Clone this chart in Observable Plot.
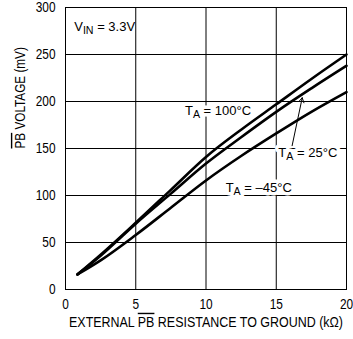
<!DOCTYPE html>
<html>
<head>
<meta charset="utf-8">
<script src="https://cdn.jsdelivr.net/npm/d3@7"></script>
<script src="https://cdn.jsdelivr.net/npm/@observablehq/plot@0.6"></script>
<style>
  body { margin: 0; background: #fff; }
</style>
</head>
<body>
<div id="chart"></div>
<script>
// External PB resistance to ground (kΩ)
const resistance = [0.85, 2.5, 5, 7.5, 10, 12.5, 15, 17.5, 20];
// PB voltage (mV) at three ambient temperatures
const volt100C = [16, 37, 71, 106, 141, 170, 197, 224, 250];
const volt25C  = [16, 36, 70, 102, 134, 162, 189, 214, 238];
const voltM45C = [16, 31, 58, 87, 116, 142, 166, 189, 210];

const xTicks = [0, 5, 10, 15, 20];
const yTicks = [0, 50, 100, 150, 200, 250, 300];
const xGrid = [5, 10, 15];
const yGrid = [50, 100, 150, 200, 250];

// {..} marks a subscript, [..] marks an overline
const xTitle = "EXTERNAL [PB] RESISTANCE TO GROUND (kΩ)";
const yTitle = "[PB] VOLTAGE (mV)";

const curves = [
  {name: "100", values: volt100C},
  {name: "25", values: volt25C},
  {name: "-45", values: voltM45C}
];
const rows = curves.flatMap(c => c.values.map((v, i) => ({series: c.name, r: resistance[i], mv: v})));

// annotation anchors, in data units
const notes = [
  {text: "V{IN} = 3.3V", r: 0.62, mv: 279, halo: false},
  {text: "T{A} = 100°C", r: 8.5, mv: 190, halo: true},
  {text: "T{A} = 25°C", r: 15.15, mv: 145, halo: true},
  {text: "T{A} = –45°C", r: 11.4, mv: 108.5, halo: true}
];
const pointer = [{r1: 16.13, mv1: 153, r2: 16.85, mv2: 204}];

const font = "'Liberation Sans', Arial, sans-serif";

const chart = Plot.plot({
  width: 353,
  height: 339,
  marginLeft: 65,
  marginRight: 7,
  marginTop: 7,
  marginBottom: 50,
  style: {fontFamily: font, fontSize: "14.5px", color: "#000", background: "#fff"},
  x: {domain: [0, 20], ticks: xTicks, tickSize: 0, tickPadding: 9, label: null},
  y: {domain: [0, 300], ticks: yTicks, tickSize: 0, tickPadding: 10, label: null},
  marks: [
    Plot.ruleX(xGrid, {stroke: "#000", strokeWidth: 1}),
    Plot.ruleY(yGrid, {stroke: "#000", strokeWidth: 1}),
    Plot.frame({stroke: "#000", strokeWidth: 1}),
    Plot.line(rows, {x: "r", y: "mv", z: "series", stroke: "#000", strokeWidth: 2.6, curve: "monotone-x"}),
    Plot.text(notes.filter(d => d.halo), {
      x: "r", y: "mv", text: "text", textAnchor: "start", fontSize: 13,
      fill: "#000", stroke: "#fff", strokeWidth: 7, paintOrder: "stroke"
    }),
    Plot.text(notes.filter(d => !d.halo), {
      x: "r", y: "mv", text: "text", textAnchor: "start", fontSize: 13, fill: "#000"
    }),
    Plot.arrow(pointer, {x1: "r1", y1: "mv1", x2: "r2", y2: "mv2", stroke: "#000", strokeWidth: 1, headLength: 8}),
    Plot.text([xTitle], {frameAnchor: "bottom", dy: 37, fontSize: 14, fill: "#000"}),
    Plot.text([yTitle], {frameAnchor: "left", rotate: -90, dx: -45, fontSize: 14, fill: "#000"})
  ]
});

// narrow (condensed) lettering for the axis texts
function narrow(el, k) {
  el.setAttribute("transform", (el.getAttribute("transform") || "") + ` scale(${k},1)`);
}
d3.select(chart).selectAll('g[aria-label$="tick label"] text').each(function() { narrow(this, 0.82); });
d3.select(chart).selectAll("text").filter(function() { return this.textContent === xTitle; }).each(function() { narrow(this, 0.89); });
d3.select(chart).selectAll("text").filter(function() { return this.textContent === yTitle; }).each(function() { narrow(this, 0.84); });

// turn {sub} and [overline] markers into tspans
function richText(node) {
  const s = node.textContent;
  if (!/[{\[]/.test(s)) return;
  node.textContent = "";
  const parts = s.split(/(\{[^}]*\}|\[[^\]]*\])/).filter(p => p.length);
  let lowered = false;
  for (const p of parts) {
    const t = document.createElementNS("http://www.w3.org/2000/svg", "tspan");
    if (p[0] === "{") {
      t.textContent = p.slice(1, -1);
      t.setAttribute("dy", "3");
      t.style.fontSize = "82%";
      lowered = true;
    } else {
      if (p[0] === "[") {
        t.textContent = p.slice(1, -1);
        t.setAttribute("text-decoration", "overline");
        t.style.textDecoration = "overline";
      } else {
        t.textContent = p;
      }
      if (lowered) { t.setAttribute("dy", "-3"); lowered = false; }
    }
    node.appendChild(t);
  }
}
d3.select(chart).selectAll("text").each(function() { richText(this); });

document.getElementById("chart").appendChild(chart);
</script>
</body>
</html>
